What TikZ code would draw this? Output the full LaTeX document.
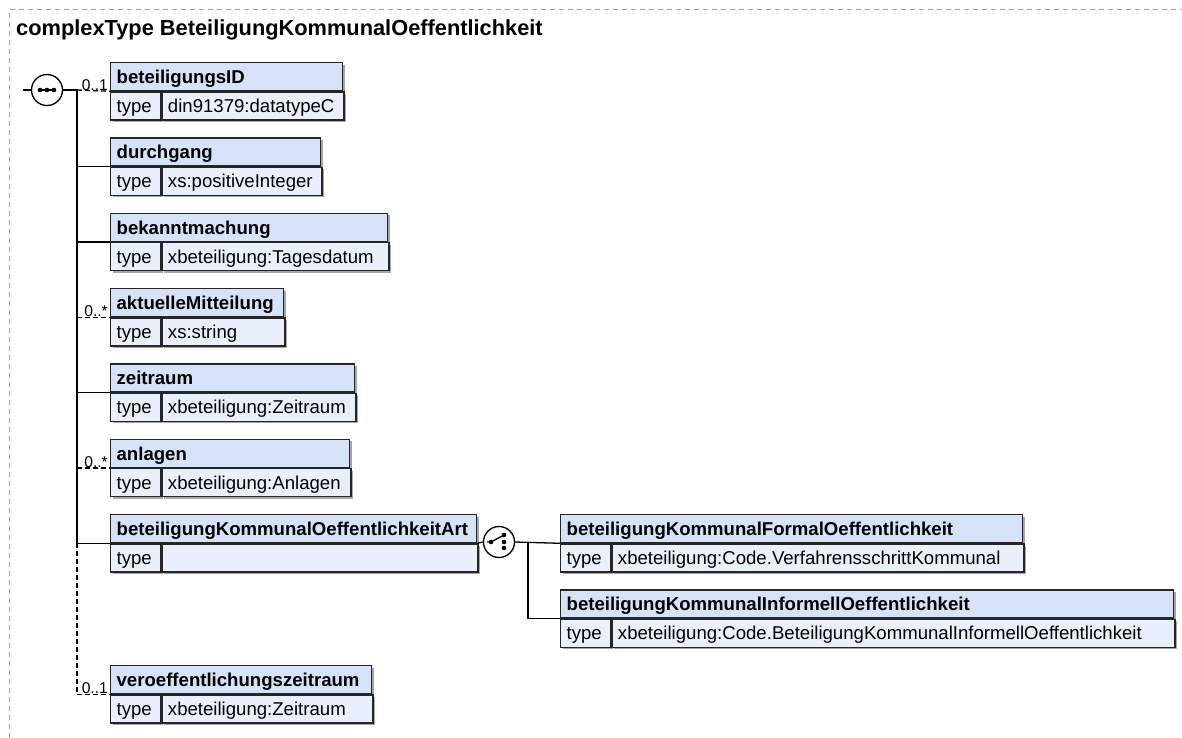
\documentclass[tikz,border=0pt]{standalone}
\usepackage{fontspec}
\setmainfont{Liberation Sans}
\usetikzlibrary{shadows}
\definecolor{hdrblue}{RGB}{214,226,248}
\definecolor{rowblue}{RGB}{234,240,251}
\definecolor{framegray}{RGB}{160,160,160}
\tikzset{x=1pt, y=-1pt, % one unit is one pixel, y runs down
cell/.style={draw=black!85, line width=1.3pt, anchor=north west, minimum height=28pt,
  inner xsep=6pt, inner ysep=0pt, text height=13.4pt, text depth=0pt, align=left,
  general shadow={fill=black!35, shadow xshift=2pt, shadow yshift=-2pt}}, % one cell of an element box
hdr/.style={cell, fill=hdrblue, font=\fontsize{18.6}{20}\selectfont\bfseries}, % element name
tcell/.style={cell, fill=rowblue, text width=38pt, font=\fontsize{18.6}{20}\selectfont}, % the word type
vcell/.style={cell, fill=rowblue, font=\fontsize{18.6}{20}\selectfont}, % the type value
link/.style={line width=1.3pt}, % required child
optlink/.style={link, dash pattern=on 5pt off 3pt}, % optional child
occurs/.style={font=\fontsize{15.6}{16}\selectfont, anchor=base east, inner sep=0pt}, % 0..1 and 0..*
compositor/.style={draw, circle, line width=1.3pt, fill=white, minimum size=31pt, inner sep=0pt},
}

\begin{document}
\begin{tikzpicture}
    \useasboundingbox (0,0) rectangle (1182,738);
    \draw[framegray, line width=1pt, dash pattern=on 5pt off 4pt] (9,738) -- (9,10) -- (1182,10);
    \node[anchor=base west, inner sep=0pt, font=\fontsize{21.8}{24}\selectfont\bfseries] (title) at (16,36)
      {complexType BeteiligungKommunalOeffentlichkeit};

    % sequence of children
    \node[hdr, text width=220pt] (bidH) at (110,62) {beteiligungsID};
    \node[tcell] (bidT) at (bidH.south west) {type};
    \node[vcell, text width=170pt] (bidV) at (bidT.north east) {din91379:datatypeC};

    \node[hdr, text width=198pt] (durH) at (110,137.3) {durchgang};
    \node[tcell] (durT) at (durH.south west) {type};
    \node[vcell, text width=148pt] (durV) at (durT.north east) {xs:positiveInteger};

    \node[hdr, text width=265pt] (bekH) at (110,212.7) {bekanntmachung};
    \node[tcell] (bekT) at (bekH.south west) {type};
    \node[vcell, text width=215pt] (bekV) at (bekT.north east) {xbeteiligung:Tagesdatum};

    \node[hdr, text width=161pt] (aktH) at (110,288) {aktuelleMitteilung};
    \node[tcell] (aktT) at (aktH.south west) {type};
    \node[vcell, text width=111pt] (aktV) at (aktT.north east) {xs:string};

    \node[hdr, text width=232pt] (zeitH) at (110,363.3) {zeitraum};
    \node[tcell] (zeitT) at (zeitH.south west) {type};
    \node[vcell, text width=182pt] (zeitV) at (zeitT.north east) {xbeteiligung:Zeitraum};

    \node[hdr, text width=227pt] (anlH) at (110,438.7) {anlagen};
    \node[tcell] (anlT) at (anlH.south west) {type};
    \node[vcell, text width=177pt] (anlV) at (anlT.north east) {xbeteiligung:Anlagen};

    \node[hdr, text width=354pt] (artH) at (110,514) {beteiligungKommunalOeffentlichkeitArt};
    \node[tcell] (artT) at (artH.south west) {type};
    \node[vcell, text width=304pt] (artV) at (artT.north east) {};

    \node[hdr, text width=249pt] (verH) at (110,665) {veroeffentlichungszeitraum};
    \node[tcell] (verT) at (verH.south west) {type};
    \node[vcell, text width=199pt] (verV) at (verT.north east) {xbeteiligung:Zeitraum};

    % choice below the Art element
    \node[hdr, text width=450pt] (formH) at (560,514) {beteiligungKommunalFormalOeffentlichkeit};
    \node[tcell] (formT) at (formH.south west) {type};
    \node[vcell, text width=400pt] (formV) at (formT.north east) {xbeteiligung:Code.VerfahrensschrittKommunal};

    \node[hdr, text width=601pt] (infH) at (560,589.3) {beteiligungKommunalInformellOeffentlichkeit};
    \node[tcell] (infT) at (infH.south west) {type};
    \node[vcell, text width=551pt] (infV) at (infT.north east) {xbeteiligung:Code.BeteiligungKommunalInformellOeffentlichkeit};

    % sequence symbol and trunk
    \coordinate (in) at (23,90);
    \node[compositor] (seq) at (47,90) {};
    \draw[link] ([xshift=-9pt]seq.center) -- ([xshift=9pt]seq.center);
    \foreach \dx in {-7,0,7}
      \fill ([xshift=\dx pt]seq.center) circle (2.3pt);
    \coordinate (tk) at (77,90);
    \draw[link] (in) -- (seq.west);
    \draw[link] (seq.east) -- (tk) -- (tk |- artH.south west);
    \draw[optlink] (tk |- artH.south west) -- (tk |- verH.south west);

    \draw[optlink] (tk) -- (bidH.south west);
    \draw[link] (tk |- durH.south west) -- (durH.south west);
    \draw[link] (tk |- bekH.south west) -- (bekH.south west);
    \draw[optlink] (tk |- aktH.south west) -- (aktH.south west);
    \draw[link] (tk |- zeitH.south west) -- (zeitH.south west);
    \draw[optlink] (tk |- anlH.south west) -- (anlH.south west);
    \draw[link] (tk |- artH.south west) -- (artH.south west);
    \draw[optlink] (tk |- verH.south west) -- (verH.south west);

    \node[occurs] at ([xshift=-2pt,yshift=1pt]bidH.south west) {0..1};
    \node[occurs] at ([xshift=-2pt,yshift=1pt]aktH.south west) {0..*};
    \node[occurs] at ([xshift=-2pt,yshift=1pt]anlH.south west) {0..*};
    \node[occurs] at ([xshift=-2pt,yshift=1pt]verH.south west) {0..1};

    % choice symbol
    \node[compositor] (choice) at (499,542) {};
    \draw[link] (artH.south east) -- (choice.west);
    \draw[link] ([xshift=-12pt]choice.center) -- ([xshift=-8pt]choice.center) -- ([xshift=5pt,yshift=7pt]choice.center);
    \fill ([xshift=-8pt]choice.center) circle (2.3pt);
    \foreach \dy in {7,0,-6}
      \fill ([xshift=5pt,yshift=\dy pt]choice.center) circle (2.3pt);
    \coordinate (br) at (528,542);
    \draw[link] (choice.east) -- (formH.south west);
    \draw[link] (br) |- (infH.south west);
\end{tikzpicture}
\end{document}
